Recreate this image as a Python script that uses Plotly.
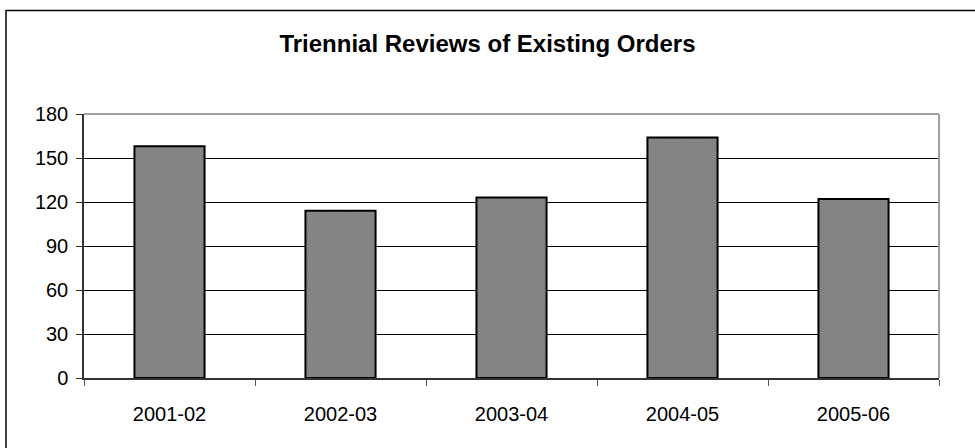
import plotly.graph_objects as go

# Reviews completed per financial year
years = ["2001-02", "2002-03", "2003-04", "2004-05", "2005-06"]
reviews = [158, 114, 123, 164, 122]
y_ticks = [0, 30, 60, 90, 120, 150, 180]

W, H = 975, 448
L, R, T, B = 84, 36, 114, 70
pw, ph = W - L - R, H - T - B


def px_x(x):
    return (x - L) / pw


def px_y(y):
    return (H - B - y) / ph


fig = go.Figure(
    go.Bar(
        x=years,
        y=reviews,
        width=0.41,
        marker=dict(
            color="#828282",
            line=dict(color="#000000", width=2),
            pattern=dict(shape=".", size=3, solidity=0.2,
                         fgcolor="#747474", bgcolor="#858585"),
        ),
        hoverinfo="x+y",
    )
)

fig.update_layout(
    width=W,
    height=H,
    margin=dict(l=L, r=R, t=T, b=B),
    paper_bgcolor="white",
    plot_bgcolor="white",
    showlegend=False,
    font=dict(family="Liberation Sans, Arial, sans-serif", size=20, color="#000000"),
    title=dict(
        text="<b>Triennial Reviews of Existing Orders</b>",
        x=0.5,
        xref="container",
        xanchor="center",
        y=1 - 44 / H,
        yref="container",
        yanchor="middle",
        font=dict(size=24, color="#000000"),
    ),
    shapes=[
        # chart frame
        dict(type="rect", xref="paper", yref="paper",
             x0=px_x(6), x1=px_x(985), y0=px_y(458), y1=px_y(10.5),
             line=dict(color="#000000", width=1.5), layer="below"),
        # plot-area border (top and right sides)
        dict(type="line", xref="paper", yref="paper",
             x0=0, x1=1, y0=1, y1=1,
             line=dict(color="#a0a0a0", width=2), layer="above"),
        dict(type="line", xref="paper", yref="paper",
             x0=1, x1=1, y0=0, y1=1,
             line=dict(color="#a0a0a0", width=2), layer="above"),
    ],
)

fig.update_xaxes(
    type="category",
    tickson="boundaries",
    ticks="outside",
    ticklen=6,
    tickcolor="#555555",
    tickwidth=1,
    showline=True,
    linecolor="#333333",
    linewidth=1.5,
    showgrid=False,
    ticklabelstandoff=17,
    tickfont=dict(size=20),
)

fig.update_yaxes(
    range=[0, 180],
    tickvals=y_ticks,
    ticks="outside",
    ticklen=6,
    tickcolor="#333333",
    tickwidth=1,
    showline=True,
    linecolor="#333333",
    linewidth=1.5,
    showgrid=True,
    gridcolor="#000000",
    gridwidth=1,
    zeroline=False,
    ticklabelstandoff=4,
    tickfont=dict(size=20),
)

fig.write_html("out.html")
